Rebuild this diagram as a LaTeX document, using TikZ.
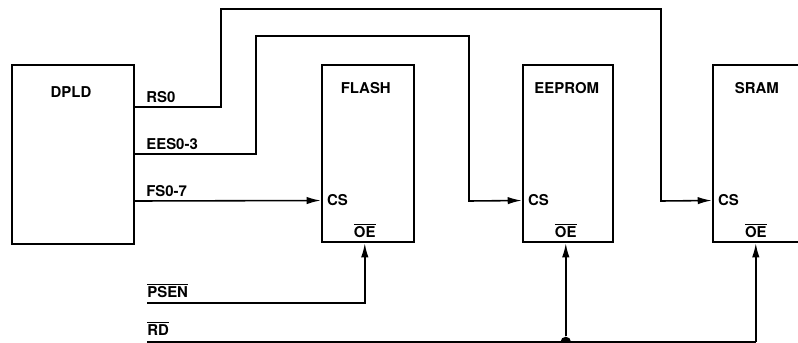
\documentclass[tikz,border=0pt]{standalone}
\usepackage{fontspec}
\setmainfont{TeX Gyre Heros}
\usetikzlibrary{arrows.meta,positioning}

\newcommand{\lowact}[1]{$\overline{\mbox{#1}}$}

\tikzset{
  chip/.style={draw, rectangle, line width=1.4pt},
  lbl/.style={font=\bfseries\fontsize{8.5}{10}\selectfont, inner sep=0pt},
  wire/.style={line width=0.9pt},
  sig/.style={wire, -{Latex[length=8pt,width=4.2pt]}},
}

\begin{document}
\begin{tikzpicture}[x=0.02cm, y=-0.02cm]
      \clip (0,0) rectangle (798,342);

      % Decoder
      \node[chip, minimum width=2.44cm, minimum height=3.58cm] (dpld) at (73,154.5) {};
      \node[lbl] (dpld-name) at (71,92) {DPLD};

      % Memory chips
      \foreach \n/\x/\w/\t in {flash/368/1.84/FLASH, eeprom/568/1.80/EEPROM, sram/768/2.2/SRAM} {
        \node[chip, minimum width=\w cm, minimum height=3.54cm] (\n) at (\x,153.5) {};
        \node[lbl] (\n-name) at ([shift={(45,24)}]\n.north west) {\t};
        \node[lbl, anchor=west] (\n-cs) at ([shift={(6,47)}]\n.west) {CS};
        \node[lbl] (\n-oe) at ([shift={(44,-13)}]\n.south west) {\lowact{OE}};
      }

      % Signal labels
      \node[lbl, anchor=south west] (rs0) at (146,103) {RS0};
      \node[lbl, anchor=south west] (ees) at (146,150) {EES0-3};
      \node[lbl, anchor=south west] (fs) at (146,197) {FS0-7};
      \node[lbl, anchor=south west] (psen) at (147,298) {\lowact{PSEN}};
      \node[lbl, anchor=south west] (rd) at (147,336) {\lowact{RD}};

      % Chip selects
      \draw[sig] (dpld.east |- 0,107) -| (221,9) -| (661,201) -- (sram.west |- sram-cs);
      \draw[sig] (dpld.east |- 0,154) -| (256,36) -| (469,201) -- (eeprom.west |- eeprom-cs);
      \draw[sig] (dpld.east |- 0,201) -- (flash.west |- flash-cs);

      % Output enables
      \draw[sig] (psen.west |- 0,303) -| (flash-oe |- flash.south);
      \node[circle, fill, inner sep=0pt, minimum size=6pt] (rdjoin) at (eeprom-oe |- 0,342) {};
      \draw[wire] (rd.west |- 0,342) -- (sram-oe |- 0,342);
      \draw[sig] (rdjoin) -- (eeprom-oe |- eeprom.south);
      \draw[sig] (sram-oe |- 0,342) -- (sram-oe |- sram.south);
\end{tikzpicture}
\end{document}
